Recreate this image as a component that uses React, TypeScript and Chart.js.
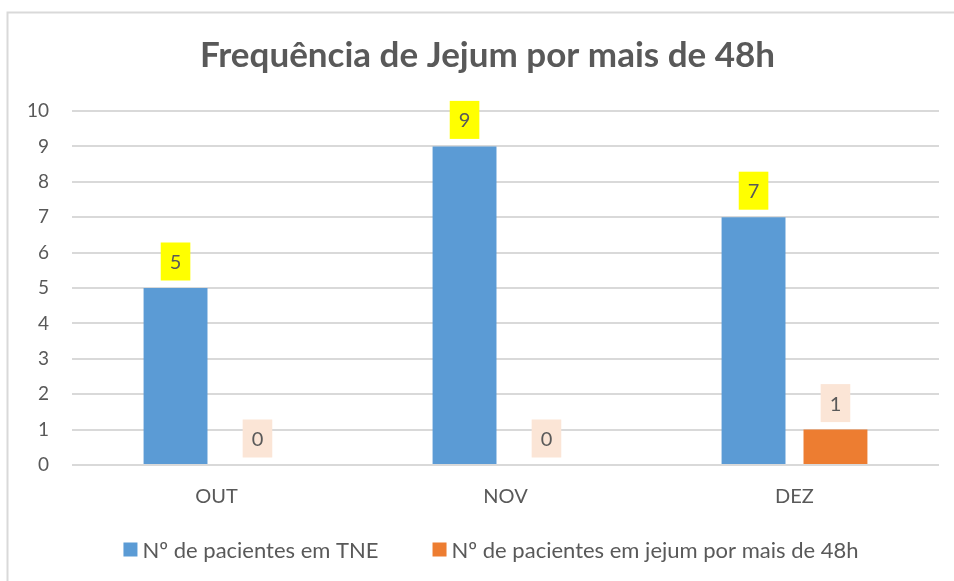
import React, { useEffect, useRef } from 'react';
import { Chart, registerables } from 'chart.js';

Chart.register(...registerables);

const categories = ['OUT', 'NOV', 'DEZ'];
const tneValues = [5, 9, 7];
const jejumValues = [0, 0, 1];
const seriesNames = ['Nº de pacientes em TNE', 'Nº de pacientes em jejum por mais de 48h'];
const titleText = 'Frequência de Jejum por mais de 48h';
const yMin = 0;
const yMax = 10;
const yStep = 1;

const FONT = 'Lato, "Open Sans", sans-serif';
const TEXT = '#595959';
const GRID = '#D9D9D9';
const BAR_COLORS = ['#5B9BD5', '#ED7D31'];
const LABEL_BG = ['#FFFF00', '#FBE5D6'];

// The original chart frame extends past the right edge of the picture,
// so the canvas is a bit wider than the visible window.
const CANVAS_W = 975;
const CANVAS_H = 581;

const framePlugin = {
  id: 'frame',
  beforeDraw(chart: any) {
    const ctx = chart.ctx;
    ctx.save();
    ctx.fillStyle = '#FFFFFF';
    ctx.fillRect(0, 0, chart.width, chart.height);
    ctx.strokeStyle = GRID;
    ctx.lineWidth = 2;
    ctx.strokeRect(7.5, 12.5, chart.width - 8, chart.height + 20);
    ctx.restore();
  },
};

const labelPlugin = {
  id: 'barLabels',
  afterDatasetsDraw(chart: any) {
    const ctx = chart.ctx;
    ctx.save();
    ctx.font = `20px ${FONT}`;
    ctx.textAlign = 'center';
    ctx.textBaseline = 'middle';
    chart.data.datasets.forEach((ds: any, di: number) => {
      const meta = chart.getDatasetMeta(di);
      meta.data.forEach((bar: any, i: number) => {
        const txt = String(ds.data[i]);
        const w = ctx.measureText(txt).width + 18;
        const h = 38;
        const bottom = bar.y - 7.5;
        ctx.fillStyle = LABEL_BG[di];
        ctx.fillRect(bar.x - w / 2, bottom - h, w, h);
        ctx.fillStyle = TEXT;
        ctx.fillText(txt, bar.x, bottom - h / 2 + 1);
      });
    });
    ctx.restore();
  },
};

// Legend drawn below the axis, built from the chart's own datasets
const legendPlugin = {
  id: 'bottomLegend',
  afterDraw(chart: any) {
    const ctx = chart.ctx;
    const box = 14;
    const gapText = 5;
    const gapItem = 54;
    const centerX = 491;
    const centerY = 549.5;
    ctx.save();
    ctx.font = `22px ${FONT}`;
    ctx.textBaseline = 'middle';
    ctx.textAlign = 'left';
    const items = chart.data.datasets.map((ds: any) => ({
      text: ds.label,
      color: ds.backgroundColor,
      w: ctx.measureText(ds.label).width,
    }));
    const total =
      items.reduce((s: number, it: any) => s + box + gapText + it.w, 0) + gapItem * (items.length - 1);
    let x = centerX - total / 2;
    items.forEach((it: any) => {
      ctx.fillStyle = it.color;
      ctx.fillRect(x, centerY - box / 2, box, box);
      ctx.fillStyle = TEXT;
      ctx.fillText(it.text, x + box + gapText, centerY + 1);
      x += box + gapText + it.w + gapItem;
    });
    ctx.restore();
  },
};

export default function App() {
  const ref = useRef<HTMLCanvasElement | null>(null);

  useEffect(() => {
    if (!ref.current) return;
    const chart = new Chart(ref.current, {
      type: 'bar',
      data: {
        labels: categories,
        datasets: [
          {
            label: seriesNames[0],
            data: tneValues,
            backgroundColor: BAR_COLORS[0],
            borderWidth: 0,
            categoryPercentage: 0.567,
            barPercentage: 0.78,
          },
          {
            label: seriesNames[1],
            data: jejumValues,
            backgroundColor: BAR_COLORS[1],
            borderWidth: 0,
            categoryPercentage: 0.567,
            barPercentage: 0.78,
          },
        ],
      },
      options: {
        animation: false,
        responsive: false,
        devicePixelRatio: 1,
        layout: { padding: { top: 0, left: 0, right: 0, bottom: 56 } },
        plugins: {
          tooltip: { enabled: false },
          legend: { display: false },
          title: {
            display: true,
            text: titleText,
            color: TEXT,
            font: { family: FONT, size: 35, weight: 'bold', lineHeight: 1.2 },
            padding: { top: 35, bottom: 34 },
          },
        },
        scales: {
          x: {
            grid: { display: false, drawTicks: false },
            border: { display: false },
            ticks: { color: TEXT, font: { family: FONT, size: 20 }, padding: 20 },
            afterFit(scale: any) {
              scale.height = 60;
            },
          },
          y: {
            min: yMin,
            max: yMax,
            grid: { color: GRID, lineWidth: 2, drawTicks: false },
            border: { display: false },
            ticks: { stepSize: yStep, color: TEXT, font: { family: FONT, size: 19 }, padding: 23 },
            afterFit(scale: any) {
              scale.width = 72;
            },
          },
          // empty spacer on the right so the plot ends where the original does
          yRight: {
            type: 'linear',
            position: 'right',
            grid: { display: false, drawTicks: false },
            border: { display: false },
            ticks: { display: false },
            afterFit(scale: any) {
              scale.width = 36;
            },
          },
        },
      },
      plugins: [framePlugin, labelPlugin, legendPlugin],
    });
    return () => chart.destroy();
  }, []);

  return (
    <div style={{ position: 'fixed', left: 0, top: 0, width: 954, height: 581, overflow: 'hidden', background: '#fff' }}>
      <canvas
        ref={ref}
        width={CANVAS_W}
        height={CANVAS_H}
        style={{ display: 'block', width: CANVAS_W, height: CANVAS_H }}
      />
    </div>
  );
}
